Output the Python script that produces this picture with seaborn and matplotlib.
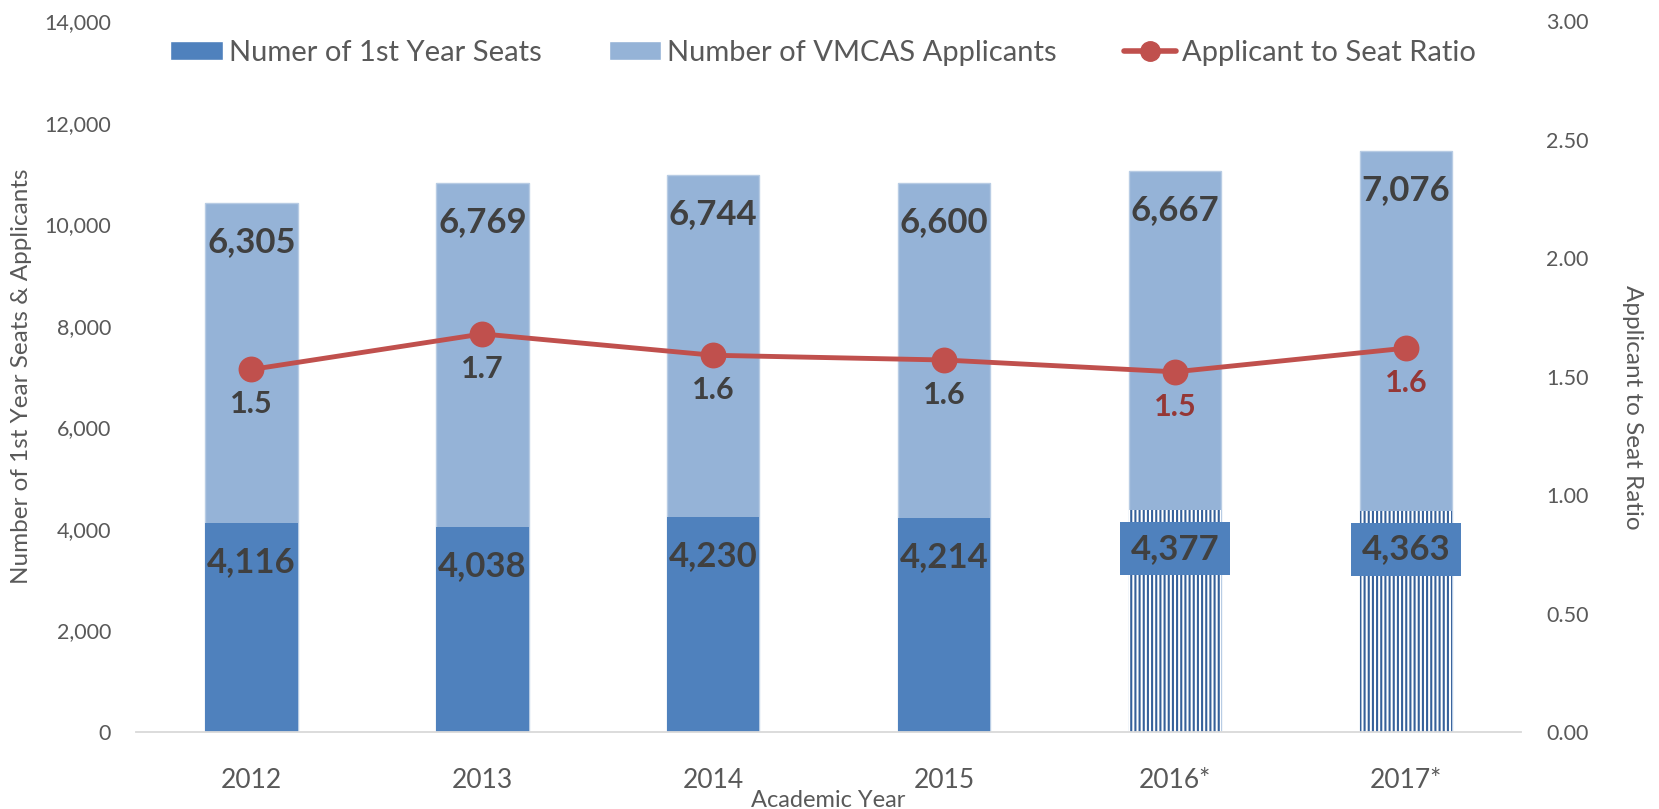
import matplotlib.ticker as ticker
from matplotlib import pyplot as plt
from matplotlib.lines import Line2D
from matplotlib.patches import Patch
import seaborn as sns
import pandas as pd

sns.set_style('white')
plt.rcParams['font.family'] = ['Lato', 'DejaVu Sans']
plt.rcParams['hatch.linewidth'] = 1.5

years = ['2012', '2013', '2014', '2015', '2016*', '2017*']
seats = [4116, 4038, 4230, 4214, 4377, 4363]
applicants = [6305, 6769, 6744, 6600, 6667, 7076]
ratios = [1.53, 1.68, 1.59, 1.57, 1.52, 1.62]
projected = ['2016*', '2017*']

SEAT_COLOR = '#4F81BD'
APP_COLOR = '#95B3D7'
LINE_COLOR = '#C0504D'
TEXT = '#404040'
GREY = '#595959'

df = pd.DataFrame({'year': years, 'seats': seats, 'applicants': applicants, 'ratio': ratios})
df['total'] = df['seats'] + df['applicants']

fig, ax = plt.subplots(figsize=(16.59, 8.09), dpi=100)
fig.subplots_adjust(left=0.082, right=0.917, top=0.974, bottom=0.095)

sns.barplot(data=df, x='year', y='total', color=APP_COLOR, width=0.4, saturation=1,
            edgecolor='#B8CCE4', linewidth=1, ax=ax)
n_top = len(ax.patches)
sns.barplot(data=df, x='year', y='seats', color=SEAT_COLOR, width=0.4, saturation=1,
            linewidth=0, ax=ax)

# projected years get the striped fill
for bar, yr in zip(ax.patches[n_top:], years):
    if yr in projected:
        bar.set_facecolor('white')
        bar.set_edgecolor('#35609A')
        bar.set_hatch('||||')
        bar.set_linewidth(0)

for i, row in df.iterrows():
    ax.annotate(f"{row['applicants']:,}", (i, row['total']), xytext=(0, -28),
                textcoords='offset points', ha='center', va='center',
                fontsize=25, fontweight='bold', color=TEXT)
    box = None
    if row['year'] in projected:
        box = dict(boxstyle='square,pad=0.3', facecolor=SEAT_COLOR, edgecolor='none')
    ax.annotate(f"{row['seats']:,}", (i, row['seats']), xytext=(0, -28),
                textcoords='offset points', ha='center', va='center',
                fontsize=25, fontweight='bold', color=TEXT, bbox=box)

ax.set_ylim(0, 14000)
ax.set_yticks(range(0, 14001, 2000))
ax.yaxis.set_major_formatter(ticker.FuncFormatter(lambda y, pos: f'{int(y):,}'))
ax.tick_params(axis='y', labelsize=15.5, labelcolor=GREY, length=0, pad=18)
ax.tick_params(axis='x', labelsize=19, labelcolor=GREY, length=0, pad=26)
ax.set_xlabel('Academic Year', fontsize=17, color=GREY, labelpad=-2.5)
ax.set_ylabel('Number of 1st Year Seats & Applicants', fontsize=17.5, color=GREY, labelpad=9)
for s in ['top', 'right', 'left']:
    ax.spines[s].set_visible(False)
ax.spines['bottom'].set_color('#D9D9D9')
ax.spines['bottom'].set_linewidth(1.3)

ax2 = ax.twinx()
sns.pointplot(data=df, x='year', y='ratio', color=LINE_COLOR, markers='o',
              markersize=16, linewidth=3.5, ax=ax2)
ax2.set_ylim(0, 3)
ax2.set_yticks([0, 0.5, 1, 1.5, 2, 2.5, 3])
ax2.yaxis.set_major_formatter(ticker.FormatStrFormatter('%.2f'))
ax2.tick_params(axis='y', labelsize=15.5, labelcolor=GREY, length=0, pad=18)
ax2.set_ylabel('Applicant to Seat Ratio', fontsize=17.5, color=GREY, rotation=270, va='center')
ax2.yaxis.set_label_coords(1.08, 0.457)
for s in ax2.spines.values():
    s.set_visible(False)

for i, row in df.iterrows():
    c = '#953735' if row['year'] in projected else TEXT
    ax2.annotate(f"{row['ratio']:.1f}", (i, row['ratio']), xytext=(0, -25),
                 textcoords='offset points', ha='center', va='center',
                 fontsize=22, fontweight='bold', color=c)

handles = [
    Patch(facecolor=SEAT_COLOR, label='Numer of 1st Year Seats'),
    Patch(facecolor=APP_COLOR, label='Number of VMCAS Applicants'),
    Line2D([], [], color=LINE_COLOR, marker='o', markersize=14, linewidth=4,
           label='Applicant to Seat Ratio'),
]
leg = ax.legend(handles=handles, loc='center', bbox_to_anchor=(0.496, 0.955), ncol=3,
                frameon=False, fontsize=21, handlelength=1.8, handleheight=0.6,
                handletextpad=0.2, columnspacing=2.3)
for t in leg.get_texts():
    t.set_color(GREY)

plt.savefig('out.png')
